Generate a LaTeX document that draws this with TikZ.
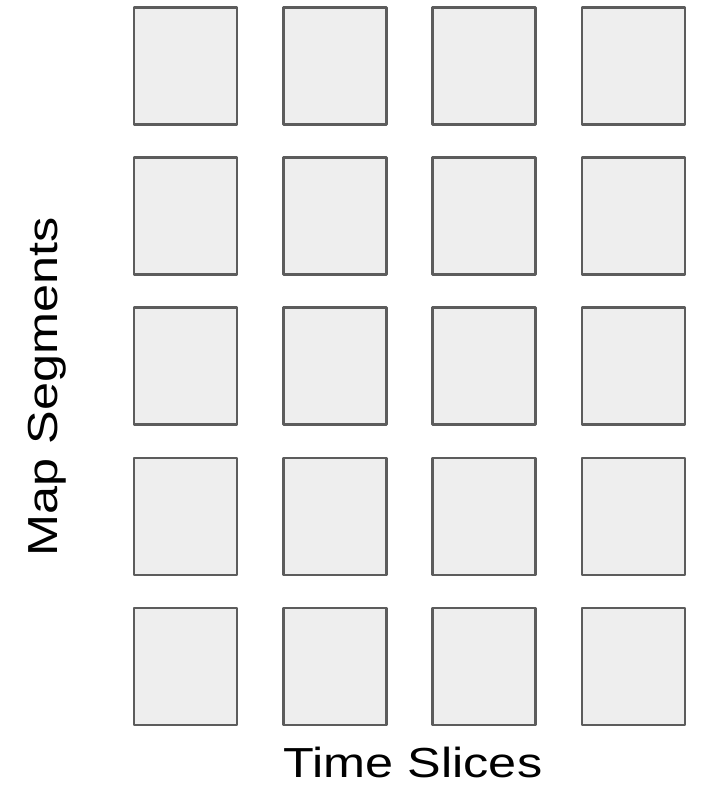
\documentclass[tikz,border=0pt]{standalone}
\usepackage{fontspec}
\setmainfont{Liberation Sans}
\usetikzlibrary{positioning}
\definecolor{slotfill}{HTML}{EEEEEE}
\definecolor{slotedge}{HTML}{5C5C5C}

\begin{document}
\begin{tikzpicture}[x=1pt,y=-1pt,line cap=round,line join=round]
  \def\cx{185.5}
  \def\cy{66}
  \def\dx{149.3}
  \def\dy{150.1}
  \tikzset{
    slot/.style={draw=slotedge,fill=slotfill,line width=2.6pt,inner sep=0pt,
      minimum width=103pt,minimum height=117pt},
    axislabel/.style={font=\fontsize{42}{50}\selectfont,inner sep=0pt}
  }
  \useasboundingbox (0,0) rectangle (706,789);

  % One slot per map segment (row) and time slice (column).
  \foreach \r in {0,...,4}{
    \foreach \c in {0,...,3}{
      \node[slot] (cell-\r-\c) at ({\cx+\c*\dx},{\cy+\r*\dy}) {};
    }
  }

  % Axis labels.
  \node[axislabel,anchor=base] (timelabel) at (413,777)
    {\scalebox{1.2}[1]{Time Slices}};
  \node[axislabel,anchor=base,rotate=90] (maplabel) at (57,387)
    {\scalebox{1.2}[1]{Map Segments}};
\end{tikzpicture}
\end{document}
